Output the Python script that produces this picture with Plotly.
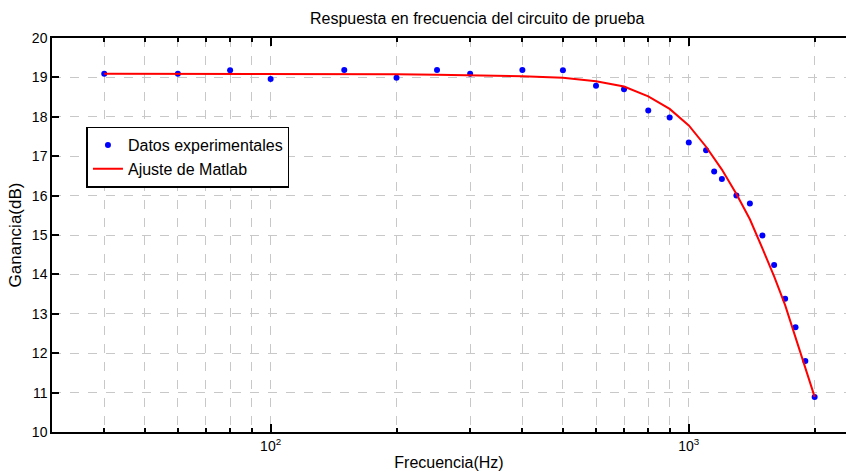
import numpy as np
import plotly.graph_objects as go

freq = [40, 60, 80, 100, 150, 200, 250, 300, 400, 500, 600, 700, 800, 900,
        1000, 1100, 1150, 1200, 1300, 1400, 1500, 1600, 1700, 1800, 1900, 2000]
gain_exp = [19.09, 19.09, 19.18, 18.96, 19.19, 18.99, 19.19, 19.09, 19.19, 19.18,
            18.79, 18.70, 18.16, 17.98, 17.35, 17.15, 16.61, 16.42, 16.00, 15.80,
            14.99, 14.24, 13.38, 12.66, 11.80, 10.89]
gain_fit = [19.09, 19.09, 19.09, 19.09, 19.08, 19.08, 19.07, 19.06, 19.03, 18.99,
            18.90, 18.77, 18.52, 18.20, 17.78, 17.24, 16.96, 16.66, 16.04, 15.40,
            14.66, 13.95, 13.22, 12.42, 11.65, 10.89]

major_x = [100, 1000]
major_x_text = ["10<sup>2</sup>", "10<sup>3</sup>"]
minor_x = [30, 40, 50, 60, 70, 80, 90, 200, 300, 400, 500, 600, 700, 800, 900, 2000]
y_ticks = list(range(10, 21))

font = "Liberation Sans, Arial, Helvetica, sans-serif"
grid = "#c8c8c8"

fig = go.Figure()
fig.add_trace(go.Scatter(x=freq, y=gain_exp, mode="markers", name="Datos experimentales",
                         marker=dict(color="#0000ff", size=6)))
fig.add_trace(go.Scatter(x=freq, y=gain_fit, mode="lines", name="Ajuste de Matlab",
                         line=dict(color="#ff0000", width=2)))

fig.update_layout(
    width=846, height=475,
    margin=dict(l=52, r=0, t=38, b=43),
    paper_bgcolor="white", plot_bgcolor="white",
    font=dict(family=font, color="black", size=14),
    title=dict(text="Respuesta en frecuencia del circuito de prueba",
               x=0.5355, xref="paper", xanchor="center", y=0.962, yanchor="middle",
               font=dict(size=16)),
    legend=dict(x=0.0434, y=0.775, xanchor="left", yanchor="top",
                bgcolor="white", bordercolor="black", borderwidth=1.5,
                font=dict(size=16), itemwidth=30, tracegroupgap=0),
    showlegend=True,
)

fig.update_xaxes(
    type="log", range=[np.log10(30), 3.376],
    tickmode="array", tickvals=major_x, ticktext=major_x_text,
    ticks="inside", ticklen=8, tickwidth=1.5, tickcolor="black",
    showline=True, linecolor="black", linewidth=1.5, mirror="ticks",
    showgrid=True, gridcolor=grid, griddash="dash", gridwidth=1,
    tickfont=dict(size=14),
    zeroline=False,
    minor=dict(tickmode="array", tickvals=minor_x, ticks="inside", ticklen=4,
               tickwidth=1.5, tickcolor="black",
               showgrid=True, gridcolor=grid, griddash="dash", gridwidth=1),
    title=dict(text="Frecuencia(Hz)", standoff=4, font=dict(size=16)),
)
fig.update_yaxes(
    range=[10, 20], tickmode="array", tickvals=y_ticks,
    ticks="inside", ticklen=7, tickwidth=1.5, tickcolor="black",
    showline=True, linecolor="black", linewidth=1.5, mirror=False,
    showgrid=True, gridcolor=grid, griddash="dash", gridwidth=1,
    tickfont=dict(size=14), zeroline=False,
    title=dict(text="Ganancia(dB)", standoff=6, font=dict(size=17)),
)

fig.write_html("out.html")
